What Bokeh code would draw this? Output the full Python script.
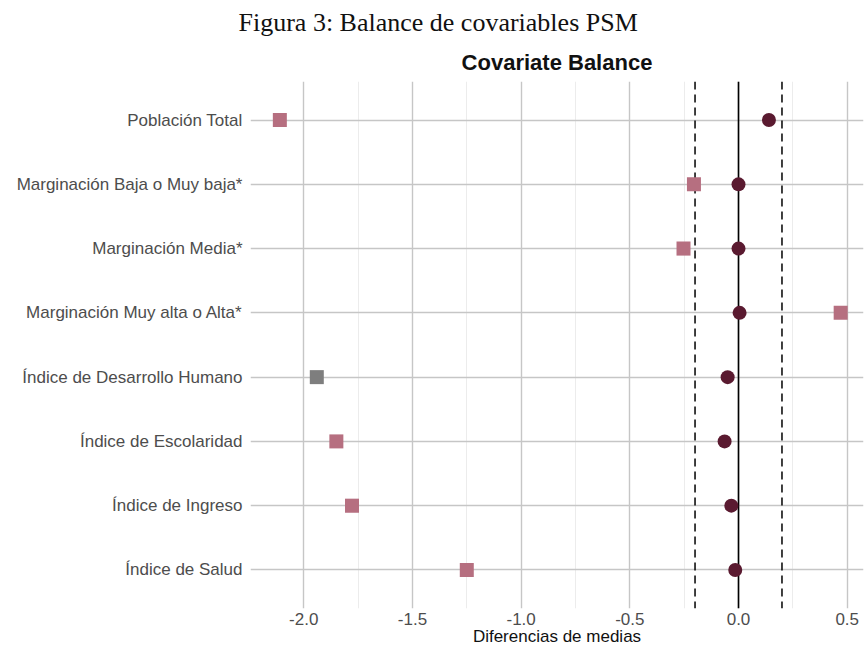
from bokeh.plotting import figure
from bokeh.models import Range1d, FixedTicker, Span, Title, ColumnDataSource
from bokeh.embed import file_html
from bokeh.resources import INLINE

# ---- data ----
covariates = [
    "Población Total",
    "Marginación Baja o Muy baja*",
    "Marginación Media*",
    "Marginación Muy alta o Alta*",
    "Índice de Desarrollo Humano",
    "Índice de Escolaridad",
    "Índice de Ingreso",
    "Índice de Salud",
]
unadjusted = [-2.11, -0.205, -0.253, 0.47, -1.94, -1.85, -1.778, -1.25]
adjusted = [0.14, 0.0, 0.0, 0.005, -0.05, -0.064, -0.033, -0.015]
thresholds = [-0.2, 0.2]
x_ticks = [-2.0, -1.5, -1.0, -0.5, 0.0, 0.5]
x_tick_labels = ["-2.0", "-1.5", "-1.0", "-0.5", "0.0", "0.5"]

# ---- styles ----
square_colors = ["#b66f80", "#b66f80", "#b66f80", "#b66f80", "#7e7e7e", "#b66f80", "#b66f80", "#b66f80"]
circle_color = "#5a1a30"

rows = list(range(1, len(covariates) + 1))
minor = [t - 0.25 for t in x_ticks] + [x_ticks[-1] + 0.25]

src = ColumnDataSource(dict(row=rows, name=covariates, unadj=unadjusted,
                            adj=adjusted, sqcol=square_colors))

p = figure(width=865, height=654,
           x_range=Range1d(-2.245, 0.575),
           y_range=Range1d(len(rows) + 0.6, 0.4),
           output_backend="svg", toolbar_location=None,
           min_border_left=250, min_border_right=2,
           min_border_top=80, min_border_bottom=46,
           title="Figura 3: Balance de covariables PSM")
p.background_fill_color = "white"
p.border_fill_color = "white"
p.outline_line_color = None

p.title.text_font = "Liberation Serif"
p.title.text_font_size = "26px"
p.title.text_font_style = "normal"
p.title.align = "left"
p.title.offset = -12
p.title.text_color = "#111111"

sub_title = Title(text="Covariate Balance",
                  text_font="Liberation Sans", text_font_size="22px",
                  text_font_style="bold", align="center",
                  text_color="#111111", standoff=13)
p.add_layout(sub_title, "above")

# axes
p.xaxis.ticker = FixedTicker(ticks=x_ticks, minor_ticks=minor)
p.xaxis.major_label_overrides = {t: l for t, l in zip(x_ticks, x_tick_labels)}
p.yaxis.ticker = FixedTicker(ticks=rows)
p.yaxis.major_label_overrides = {r: n for r, n in zip(rows, covariates)}
for ax in (p.xaxis, p.yaxis):
    ax.axis_line_color = None
    ax.major_tick_line_color = None
    ax.minor_tick_line_color = None
    ax.major_label_text_font = "Liberation Sans"
    ax.major_label_text_font_size = "17px"
    ax.major_label_text_color = "#4d4d4d"
p.yaxis.major_label_standoff = 2
p.xaxis.major_label_standoff = -2
p.xaxis.axis_label = "Diferencias de medias"
p.xaxis.axis_label_text_font = "Liberation Sans"
p.xaxis.axis_label_text_font_size = "17px"
p.xaxis.axis_label_text_font_style = "normal"
p.xaxis.axis_label_text_color = "#111111"
p.xaxis.axis_label_standoff = -1

# grids
p.xgrid.grid_line_color = "#c6c6c6"
p.xgrid.grid_line_width = 1.4
p.xgrid.minor_grid_line_color = "#ececec"
p.xgrid.minor_grid_line_width = 1
p.ygrid.grid_line_color = "#c6c6c6"
p.ygrid.grid_line_width = 1.4

# reference lines
for t in thresholds:
    p.add_layout(Span(location=t, dimension="height", line_color="black",
                      line_width=1.5, line_dash="8 5", level="underlay"))
p.add_layout(Span(location=0, dimension="height", line_color="black",
                  line_width=1.6, level="underlay"))

p.scatter(x="unadj", y="row", source=src, marker="square", size=14,
          fill_color="sqcol", line_color=None)
p.scatter(x="adj", y="row", source=src, marker="circle", size=14,
          fill_color=circle_color, line_color=None)

open("out.html", "w").write(file_html(p, INLINE))
